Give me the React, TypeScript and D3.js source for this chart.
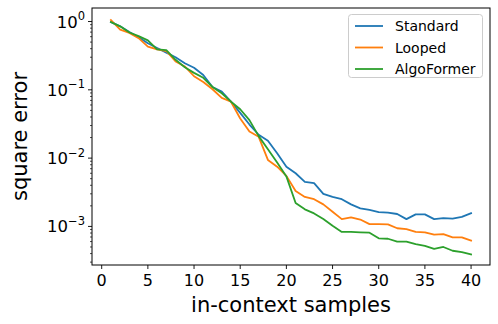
import React from "react";
import * as d3 from "d3";

const samples = d3.range(1, 41);

const standard = [
  0.98, 0.85, 0.7, 0.59, 0.48, 0.41, 0.35, 0.3, 0.245, 0.21,
  0.165, 0.11, 0.094, 0.067, 0.046, 0.031, 0.022, 0.018, 0.0118, 0.0075,
  0.006, 0.0045, 0.0043, 0.003, 0.0027, 0.0025, 0.0021, 0.00184, 0.00174, 0.00162,
  0.00159, 0.00152, 0.00128, 0.0015, 0.0015, 0.00128, 0.00132, 0.0013, 0.00138, 0.00156,
];

const looped = [
  1.05, 0.76, 0.68, 0.57, 0.43, 0.39, 0.37, 0.26, 0.22, 0.158,
  0.13, 0.102, 0.076, 0.067, 0.038, 0.0245, 0.0205, 0.0094, 0.0075, 0.0055,
  0.0033, 0.0027, 0.0025, 0.0021, 0.00164, 0.00128, 0.00136, 0.00126, 0.00108, 0.00108,
  0.00107, 0.00094, 0.00091, 0.00083, 0.00082, 0.00076, 0.00077, 0.00069, 0.00069, 0.00062,
];

const algoFormer = [
  0.98, 0.85, 0.69, 0.61, 0.53, 0.39, 0.38, 0.275, 0.214, 0.177,
  0.15, 0.11, 0.089, 0.067, 0.052, 0.036, 0.021, 0.0135, 0.0086, 0.0054,
  0.0022, 0.00178, 0.00155, 0.00128, 0.00102, 0.00083, 0.00083, 0.00082, 0.00081, 0.00067,
  0.00066, 0.0006, 0.0006, 0.00055, 0.00052, 0.00047, 0.0005, 0.00044, 0.00042, 0.00039,
];

const seriesNames = ["Standard", "Looped", "AlgoFormer"];
const seriesColors = ["#1f77b4", "#ff7f0e", "#2ca02c"];
const xTicks = [0, 5, 10, 15, 20, 25, 30, 35, 40];
const yTickExps = [0, -1, -2, -3];

export default function App() {
  const width = 498;
  const height = 324;
  const left = 92, right = 490, top = 8, bottom = 265;
  const font = "DejaVu Sans, sans-serif";

  const x = d3.scaleLinear().domain([-1.05, 42.05]).range([left, right]);
  const y = d3.scaleLog().domain([Math.pow(10, -3.565), Math.pow(10, 0.198)]).range([bottom, top]);

  const line = d3
    .line<number>()
    .x((_, i) => x(samples[i]))
    .y((d) => y(d));

  const allSeries = [standard, looped, algoFormer];

  // minor ticks for the log axis
  const minor: number[] = [];
  for (let e = -4; e <= 0; e++) {
    for (let m = 2; m <= 9; m++) {
      const v = m * Math.pow(10, e);
      const [d0, d1] = y.domain();
      if (v >= d0 && v <= d1) minor.push(v);
    }
  }

  return (
    <svg
      width={width}
      height={height}
      style={{ position: "absolute", left: 0, top: 0, background: "#fff" }}
      fontFamily={font}
    >
      <rect x={0} y={0} width={width} height={height} fill="#fff" />

      <defs>
        <clipPath id="plot">
          <rect x={left} y={top} width={right - left} height={bottom - top} />
        </clipPath>
      </defs>

      <g clipPath="url(#plot)">
        {allSeries.map((s, i) => (
          <path
            key={seriesNames[i]}
            d={line(s) || ""}
            fill="none"
            stroke={seriesColors[i]}
            strokeWidth={1.8}
            strokeLinejoin="round"
            strokeLinecap="square"
          />
        ))}
      </g>

      {/* x axis */}
      {xTicks.map((t) => (
        <g key={t}>
          <line x1={x(t)} x2={x(t)} y1={bottom} y2={bottom + 4} stroke="#000" strokeWidth={0.9} />
          <text x={x(t)} y={bottom + 21} textAnchor="middle" fontSize={16} fill="#000">
            {t}
          </text>
        </g>
      ))}
      <text x={(left + right) / 2} y={bottom + 47} textAnchor="middle" fontSize={21} fill="#000">
        in-context samples
      </text>

      {/* y axis */}
      {minor.map((v) => (
        <line key={v} x1={left - 2} x2={left} y1={y(v)} y2={y(v)} stroke="#000" strokeWidth={0.7} />
      ))}
      {yTickExps.map((e) => {
        const v = Math.pow(10, e);
        const label = e === 0 ? "0" : "\u2212" + Math.abs(e);
        return (
          <g key={e}>
            <line x1={left - 4} x2={left} y1={y(v)} y2={y(v)} stroke="#000" strokeWidth={0.9} />
            <text x={left - 7} y={y(v) + 6} textAnchor="end" fontSize={16.5} fill="#000">
              10
              <tspan fontSize={11.5} dy={-7.5}>
                {label}
              </tspan>
            </text>
          </g>
        );
      })}
      <text
        transform={`translate(27,${(top + bottom) / 2}) rotate(-90)`}
        textAnchor="middle"
        fontSize={21}
        fill="#000"
      >
        square error
      </text>

      {/* frame */}
      <rect x={left} y={top} width={right - left} height={bottom - top} fill="none" stroke="#000" strokeWidth={1} />

      {/* legend */}
      <rect x={348.5} y={14.5} width={134} height={63} rx={3} fill="#fff" fillOpacity={0.8} stroke="#ccc" strokeWidth={1} />
      {seriesNames.map((n, i) => (
        <g key={n} transform={`translate(0,${26 + i * 21.5})`}>
          <line x1={355} x2={383} y1={0} y2={0} stroke={seriesColors[i]} strokeWidth={1.8} />
          <text x={395} y={5} fontSize={14} fill="#000">
            {n}
          </text>
        </g>
      ))}
    </svg>
  );
}
